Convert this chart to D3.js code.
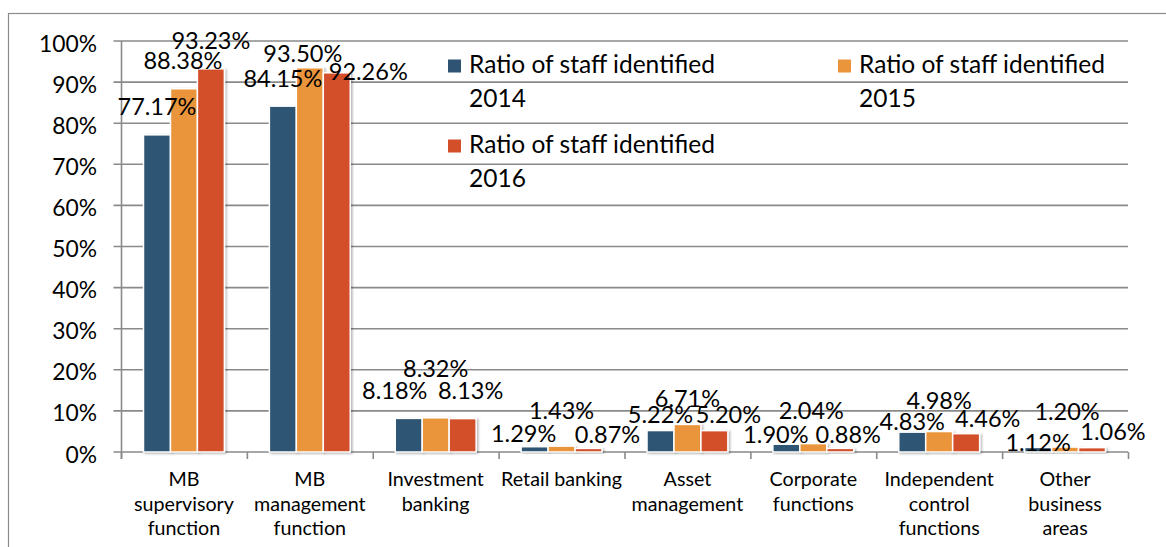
<!DOCTYPE html>
<html>
<head>
<meta charset="utf-8">
<script src="https://cdn.jsdelivr.net/npm/d3@7"></script>
<style>
  html, body { margin: 0; padding: 0; background: #fff; }
  svg { display: block; }
  text { font-family: Lato, "Open Sans", sans-serif; fill: #000; }
</style>
</head>
<body>
<svg id="chart" width="1166" height="547"></svg>
<script>
// ---- data ----
const categories = [
  "MB\nsupervisory\nfunction",
  "MB\nmanagement\nfunction",
  "Investment\nbanking",
  "Retail banking",
  "Asset\nmanagement",
  "Corporate\nfunctions",
  "Independent\ncontrol\nfunctions",
  "Other\nbusiness\nareas"
];
const seriesNames = [
  "Ratio of staff identified 2014",
  "Ratio of staff identified 2015",
  "Ratio of staff identified 2016"
];
const values2014 = [77.17, 84.15, 8.18, 1.29, 5.22, 1.90, 4.83, 1.12];
const values2015 = [88.38, 93.50, 8.32, 1.43, 6.71, 2.04, 4.98, 1.20];
const values2016 = [93.23, 92.26, 8.13, 0.87, 5.20, 0.88, 4.46, 1.06];
const yTicks = [0, 10, 20, 30, 40, 50, 60, 70, 80, 90, 100];

// label nudges (dx, dy) relative to default "outside end" label spot
const nudge2014 = [[0,0],[0,0],[-14,0],[-11,14.5],[0,12],[-10.5,18],[0,17],[0,23]];
const nudge2015 = [[-1,0],[-7,13.5],[0,-21],[0,-8],[0,2],[-2,-5],[0,-3],[2,-8]];
const nudge2016 = [[0,0],[31.5,27],[8,0],[19,14],[14,12],[8,14],[21.6,13],[21,12]];

const seriesValues = [values2014, values2015, values2016];
const seriesNudges = [nudge2014, nudge2015, nudge2016];
const colors = ["#2F5473", "#EA953B", "#D34F2A"];

// ---- layout ----
const svg = d3.select("#chart");
const plotLeft = 121, plotRight = 1128, plotTop = 41, plotBottom = 452;

// font fitting helper
function fitSize(str, target) {
  const t = svg.append("text").attr("font-size", 100).text(str);
  const w = t.node().getComputedTextLength();
  t.remove();
  return 100 * target / w;
}
const tickFont = fitSize("100%", 58);
const labelFont = fitSize("77.17%", 79);
const legendFont = fitSize("Ratio of staff identified", 246);
const catFont = fitSize("Retail banking", 121);

const defs = svg.append("defs");
const f = defs.append("filter").attr("id", "shadow").attr("x", "-20%").attr("y", "-20%").attr("width", "150%").attr("height", "150%");
f.append("feDropShadow").attr("dx", 1.5).attr("dy", 1).attr("stdDeviation", 1).attr("flood-color", "#000").attr("flood-opacity", 0.3);

// outer border
svg.append("rect")
  .attr("x", 8.5).attr("y", 13.5).attr("width", 1200).attr("height", 600)
  .attr("fill", "none").attr("stroke", "#8c8c8c").attr("stroke-width", 1.2);

const x0 = d3.scaleBand().domain(categories).range([plotLeft, plotRight]).paddingInner(0).paddingOuter(0);
const x1 = d3.scaleBand().domain(seriesNames).range([22.5, x0.bandwidth() - 22.5]).padding(0);
const y = d3.scaleLinear().domain([0, 100]).range([plotBottom, plotTop]);

// gridlines
svg.append("g").selectAll("line").data(yTicks).join("line")
  .attr("x1", plotLeft - 7.5).attr("x2", plotRight)
  .attr("y1", d => y(d)).attr("y2", d => y(d))
  .attr("stroke", "#8a8a8a").attr("stroke-width", 1.6);

// y axis line
svg.append("line").attr("x1", plotLeft + 0.5).attr("x2", plotLeft + 0.5)
  .attr("y1", plotTop).attr("y2", plotBottom + 7)
  .attr("stroke", "#8a8a8a").attr("stroke-width", 1.6);

// y tick labels
svg.append("g").selectAll("text").data(yTicks).join("text")
  .attr("x", 97).attr("y", d => y(d) + 1.5)
  .attr("text-anchor", "end").attr("dominant-baseline", "central")
  .attr("font-size", tickFont)
  .text(d => d + "%");

// category ticks
const boundaries = categories.map(c => x0(c)).concat([plotRight]);
svg.append("g").selectAll("line").data(boundaries).join("line")
  .attr("x1", d => d + 0.5).attr("x2", d => d + 0.5)
  .attr("y1", plotBottom).attr("y2", plotBottom + 7)
  .attr("stroke", "#8a8a8a").attr("stroke-width", 1.6);

// bars
const groups = svg.append("g").selectAll("g").data(categories).join("g")
  .attr("transform", c => `translate(${x0(c)},0)`);
groups.selectAll("rect")
  .data((c, i) => seriesNames.map((s, k) => ({ s, k, v: seriesValues[k][i] })))
  .join("rect")
  .attr("x", d => x1(d.s))
  .attr("y", d => y(d.v))
  .attr("width", x1.bandwidth())
  .attr("height", d => y(0) - y(d.v))
  .attr("fill", d => colors[d.k])
  .attr("stroke", "#fff").attr("stroke-width", 1.5)
  .attr("filter", "url(#shadow)");

// data labels
groups.selectAll("text.lab")
  .data((c, i) => seriesNames.map((s, k) => ({ s, k, v: seriesValues[k][i], n: seriesNudges[k][i] })))
  .join("text").attr("class", "lab")
  .attr("x", d => x1(d.s) + x1.bandwidth() / 2 + d.n[0])
  .attr("y", d => y(d.v) - 19.5 + d.n[1])
  .attr("text-anchor", "middle")
  .attr("font-size", labelFont)
  .text(d => d.v.toFixed(2) + "%");

// category labels
const catG = svg.append("g").selectAll("text").data(categories).join("text")
  .attr("text-anchor", "middle")
  .attr("font-size", catFont)
  .attr("fill", "#111");
catG.each(function(c) {
  const lines = c.split("\n");
  const t = d3.select(this);
  lines.forEach((ln, j) => {
    t.append("tspan")
      .attr("x", x0(c) + x0.bandwidth() / 2)
      .attr("y", 486 + j * 24.5)
      .text(ln);
  });
});

// legend
const legendPos = [[448, 73], [838, 73], [448, 153]];
const leg = svg.append("g").selectAll("g").data(seriesNames).join("g")
  .attr("transform", (d, i) => `translate(${legendPos[i][0]},${legendPos[i][1]})`);
leg.append("rect").attr("x", 0).attr("y", -13.5).attr("width", 13).attr("height", 13)
  .attr("fill", (d, i) => colors[i]);
leg.each(function(name) {
  const words = name.split(" ");
  const line2 = words.pop();
  const line1 = words.join(" ");
  const t = d3.select(this).append("text").attr("font-size", legendFont);
  t.append("tspan").attr("x", 21).attr("y", 0).text(line1);
  t.append("tspan").attr("x", 21).attr("y", 33.5).text(line2);
});
</script>
</body>
</html>
